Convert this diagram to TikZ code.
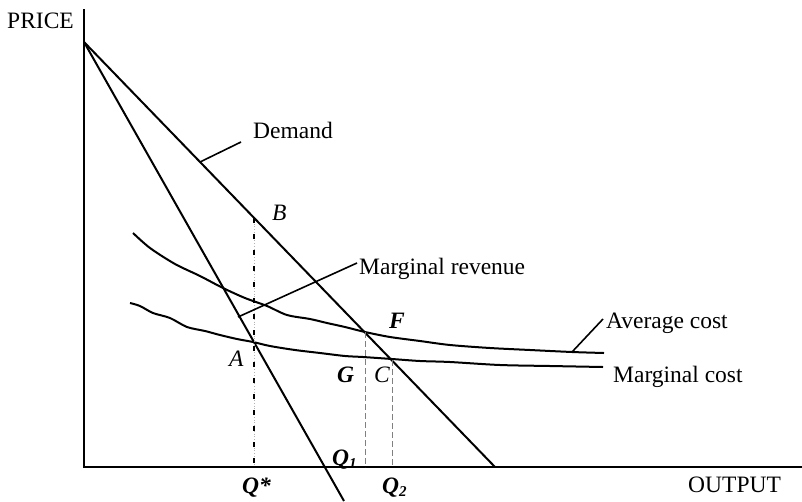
\documentclass[tikz,border=0pt]{standalone}
\usepackage{fontspec}
\setmainfont{Liberation Serif}
\begin{document}
\begin{tikzpicture}[x=1pt,y=-1pt,
  lbl/.style={anchor=base west,inner sep=0pt,font=\fontsize{23.5}{27}\selectfont},
  ilbl/.style={lbl,font=\fontsize{23.5}{27}\selectfont\itshape},
  bilbl/.style={lbl,font=\fontsize{23.5}{27}\selectfont\bfseries\itshape},
  axis/.style={line width=2.4pt},
  curve/.style={line width=2pt,line join=round},
  thin/.style={line width=1.6pt},
  guide/.style={line width=0.7pt,gray,dash pattern=on 6pt off 3pt}]
\useasboundingbox (0,0) rectangle (802,501);
% axes
\coordinate (ytop) at (84,9);
\coordinate (orig) at (84,467);
\coordinate (xend) at (802,467);
\draw[axis] (ytop) -- (orig) -- (xend);
% demand and marginal revenue
\coordinate (apex) at (84,42);
\coordinate (dend) at (495,467);
\coordinate (mrend) at (344,501);
\draw[curve] (apex) -- (dend);
\draw[curve] (apex) -- (mrend);
% average cost
\draw[curve] plot[smooth,tension=0.5] coordinates {(133,233) (150,248) (175,264) (200,276) (223,288) (245,298) (267,306) (287,315) (310,319) (327,323) (345,327) (365,332) (390,337) (420,341) (450,345) (490,348) (530,350) (572,352) (604,353)};
% marginal cost
\draw[curve] plot[smooth,tension=0.5] coordinates {(130,303) (140,306) (153,313) (170,318) (187,327) (205,331) (220,335) (237,339) (253,342) (270,346) (295,350) (320,353) (345,356) (363,357) (392,359) (420,361) (450,362) (500,365) (550,366) (603,367)};
% Q* line
\coordinate (Bpt) at (254,218);
\coordinate (Qs) at (254,467);
\draw[line width=0.8pt,gray!60,dotted] (Bpt) -- (Qs);
\draw[line width=2.2pt,dash pattern=on 4.5pt off 11.5pt] (Bpt) -- (Qs);
% guides G and C
\coordinate (Fpt) at (365,332);
\coordinate (Q1) at (365,467);
\coordinate (Cpt) at (392,360);
\coordinate (Q2) at (392,467);
\draw[guide] (Fpt) -- (Q1);
\draw[guide] (Cpt) -- (Q2);
% leader lines
\coordinate (dl1) at (200,162);
\coordinate (dl2) at (241,142);
\draw[thin] (dl1) -- (dl2);
\coordinate (mr1) at (238,317);
\coordinate (mr2) at (357,263);
\draw[thin] (mr1) -- (mr2);
\coordinate (ac1) at (572,352);
\coordinate (ac2) at (603,319);
\draw[thin] (ac1) -- (ac2);
% labels
\node[lbl] (price) at (7,28) {PRICE};
\node[lbl] (output) at (688,492) {OUTPUT};
\node[lbl] (demand) at (253,138) {Demand};
\node[lbl] (mrlab) at (359,274) {Marginal revenue};
\node[lbl] (aclab) at (606,328) {Average cost};
\node[lbl] (mclab) at (613,382) {Marginal cost};
\node[ilbl] (B) at (272,220) {B};
\node[ilbl] (A) at (229,366) {A};
\node[ilbl] (C) at (374,382) {C};
\node[bilbl] (G) at (337,382) {G};
\node[bilbl] (F) at (389,328) {F};
\node[bilbl] (Qstar) at (242,493) {Q*};
\node[bilbl] (Qone) at (332,465) {Q\raisebox{-0.3ex}{\fontsize{15}{15}\selectfont 1}};
\node[bilbl] (Qtwo) at (382,493) {Q\raisebox{-0.3ex}{\fontsize{15}{15}\selectfont 2}};
\end{tikzpicture}
\end{document}
